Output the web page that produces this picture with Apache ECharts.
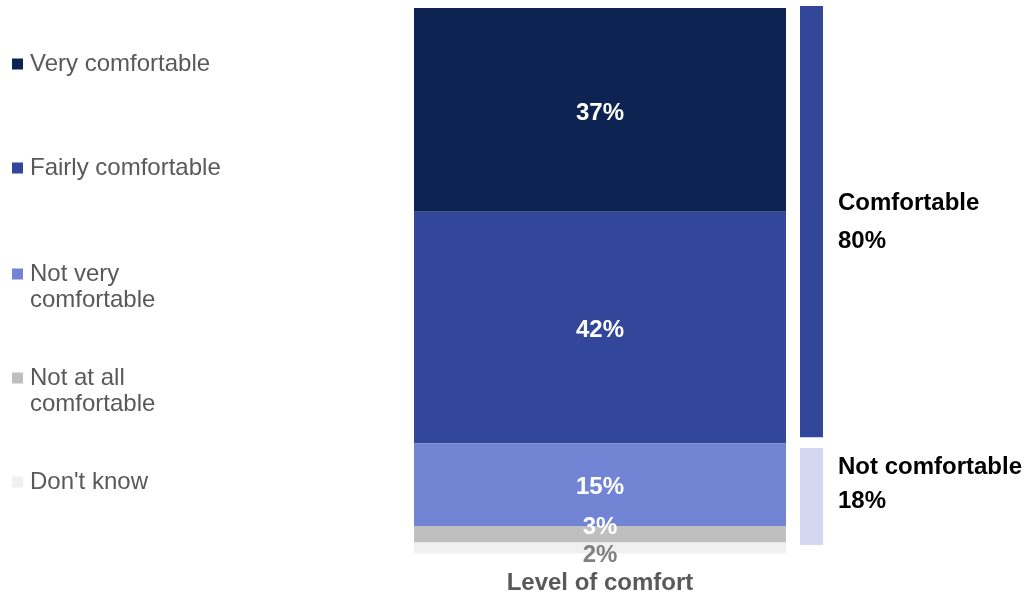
<!DOCTYPE html>
<html><head><meta charset="utf-8">
<script src="https://cdn.jsdelivr.net/npm/echarts@6/dist/echarts.min.js"></script>
<style>html,body{margin:0;padding:0;background:#fff}#c{width:1027px;height:595px}</style>
</head><body><div id="c"></div>
<script>
const categories = ['Level of comfort'];
const seriesNames = ['Very comfortable', 'Fairly comfortable', 'Not very comfortable', 'Not at all comfortable', "Don't know"];
const seriesValues = [37, 42, 15, 3, 2];
const legendLabels = ['Very comfortable', 'Fairly comfortable', 'Not very\ncomfortable', 'Not at all\ncomfortable', "Don't know"];
const netNames = ['Comfortable', 'Not comfortable'];
const netValues = [80, 18];

const colors = ['#0d2352', '#33479a', '#7285d4', '#bfbfbf', '#f0f0f0'];
const netColors = ['#33479a', '#d3d8f0'];
const FONT = '"Liberation Sans", Arial, sans-serif';
const FS = 24;

const chart = echarts.init(document.getElementById('c'), null, {renderer: 'canvas'});

const legendTops = [51, 155, 261, 365, 469];
const legends = seriesNames.map((n, i) => {
  const two = legendLabels[i].indexOf('\n') >= 0;
  return {
    data: [n], orient: 'vertical', left: 12, top: legendTops[i], padding: 0,
    itemWidth: 11, itemHeight: two ? 37 : 11, itemGap: 0,
    icon: two ? 'path://M0,0h11v11h-11z M0,37h0.01v0.01h-0.01z' : 'rect',
    formatter: () => legendLabels[i],
    textStyle: {fontFamily: FONT, fontSize: FS, color: '#595959', lineHeight: 26, padding: [0, 0, 0, 2]},
    selectedMode: false
  };
});

const mainSeries = seriesNames.map((n, i) => ({
  name: n, type: 'bar', stack: 'main', xAxisIndex: 0, yAxisIndex: 0,
  barWidth: '100%', data: [seriesValues[i]],
  itemStyle: {color: colors[i]},
  label: {
    show: true, position: 'inside', formatter: '{c}%',
    fontFamily: FONT, fontSize: FS, fontWeight: 'bold',
    color: i === 4 ? '#808080' : '#ffffff',
    offset: i === 3 ? [0, -7] : (i === 4 ? [0, 7] : [0, 3])
  }
}));

const gapValue = 100 - netValues[0] - netValues[1];
const netSeries = [
  {name: netNames[0], type: 'bar', stack: 'net', xAxisIndex: 1, yAxisIndex: 1, barWidth: '100%',
   data: [netValues[0]], itemStyle: {color: netColors[0]},
   label: {show: true, position: 'right', distance: 15, formatter: '{a}\n{c}%', fontFamily: FONT,
     fontSize: FS, fontWeight: 'bold', color: '#000', lineHeight: 38, align: 'left', offset: [0, 1]}},
  {name: 'gap', type: 'bar', stack: 'net', xAxisIndex: 1, yAxisIndex: 1, barWidth: '100%',
   data: [gapValue], itemStyle: {color: 'rgba(0,0,0,0)'}, silent: true},
  {name: netNames[1], type: 'bar', stack: 'net', xAxisIndex: 1, yAxisIndex: 1, barWidth: '100%',
   data: [netValues[1]], itemStyle: {color: netColors[1]},
   label: {show: true, position: 'right', distance: 15, formatter: '{a}\n{c}%', fontFamily: FONT,
     fontSize: FS, fontWeight: 'bold', color: '#000', lineHeight: 34, align: 'left', offset: [0, -12]}}
];

chart.setOption({
  animation: false,
  textStyle: {fontFamily: FONT},
  legend: legends,
  grid: [
    {left: 414, width: 372, top: 8, height: 552, containLabel: false},
    {left: 800, width: 23, top: 6, height: 539, containLabel: false}
  ],
  xAxis: [
    {type: 'category', gridIndex: 0, data: categories, axisLine: {show: false}, axisTick: {show: false},
     axisLabel: {fontFamily: FONT, fontSize: FS, fontWeight: 'bold', color: '#595959', margin: 12}},
    {type: 'category', gridIndex: 1, data: [''], show: false}
  ],
  yAxis: [
    {type: 'value', gridIndex: 0, inverse: true, min: 0, max: 100, show: false},
    {type: 'value', gridIndex: 1, inverse: true, min: 0, max: 100, show: false}
  ],
  series: mainSeries.concat(netSeries)
});
</script></body></html>
